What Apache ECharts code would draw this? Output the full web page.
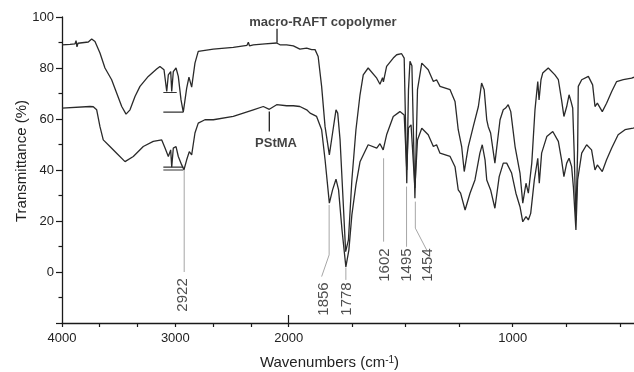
<!DOCTYPE html>
<html>
<head>
<meta charset="utf-8">
<script src="https://cdn.jsdelivr.net/npm/echarts@6/dist/echarts.min.js"></script>
<style>
  html, body { margin: 0; padding: 0; background: #fff; }
  #chart { width: 634px; height: 372px; }
</style>
</head>
<body>
<div id="chart"></div>
<script>
// wavenumbers (cm-1) and transmittance (%)
const topWn = [4000,3929,3885,3876,3868,3859,3768,3738,3709,3665,
  3621,3562,3518,3473,3435,3400,3356,3312,3239,3165,
  3136,3100,3076,3062,3041,3032,3018,2994,2974,2950,
  2930,2900,2880,2856,2827,2798,2783,2665,2489,2368,
  2356,2346,2312,2209,2106,2077,2018,1985,1964,1942,
  1926,1915,1905,1891,1875,1855,1840,1824,1816,1805,
  1791,1779,1766,1750,1731,1712,1697,1674,1634,1619,
  1607,1603,1588,1557,1541,1518,1506,1494,1486,1479,
  1470,1456,1444,1424,1394,1370,1355,1339,1292,1269,
  1254,1238,1226,1207,1184,1160,1145,1133,1121,1114,
  1103,1083,1059,1044,1033,1021,1009,989,966,953,
  938,927,911,896,883,877,868,860,834,803,
  787,772,761,748,737,728,720,713,705,697,
  694,678,647,627,616,605,582,562,538,515,
  484,445,434]
const topT = [89.1,89.3,89.5,90.7,88.3,89.7,90.2,91.4,90.4,85.9,
  80.0,75.4,70.2,64.9,61.9,63.6,68.8,72.8,76.7,79.6,
  80.6,79.3,70.8,77.3,78.6,70.8,78.6,80.0,76.7,67.5,
  62.7,72.1,76.4,72.5,81.9,86.5,87.2,87.4,88.1,88.9,
  90.1,88.7,89.1,89.5,89.8,89.1,89.1,88.7,87.4,87.8,
  87.2,87.2,84.5,72.8,57.0,45.9,54.5,63.6,62.3,51.8,
  28.3,8.0,12.6,36.1,55.8,69.5,77.3,80.0,76.0,73.6,
  76.2,74.6,80.6,83.9,85.2,85.6,83.9,34.8,71.5,82.6,
  80.9,28.9,71.5,81.9,79.3,74.7,75.4,72.8,71.5,66.9,
  55.8,49.2,39.4,49.2,57.0,64.9,74.1,71.5,59.7,57.0,
  54.5,42.7,59.7,63.6,64.3,65.6,62.9,49.2,38.8,27.0,
  34.8,30.9,42.7,63.6,74.7,67.5,75.4,78.0,80.0,77.3,
  75.4,67.5,61.0,64.9,69.5,66.9,64.3,46.6,20.4,47.9,
  72.8,75.4,76.7,73.4,64.9,66.2,62.9,66.2,70.8,74.7,
  75.4,76.0,76.4]

const lowWn = [4000,3753,3724,3694,3665,3636,3577,3518,3444,3371,
  3283,3195,3120,3091,3062,3041,3032,3018,2994,2974,
  2944,2924,2900,2877,2856,2827,2798,2739,2665,2489,
  2312,2224,2171,2106,2018,1985,1964,1942,1931,1910,
  1891,1875,1855,1840,1824,1812,1796,1778,1764,1750,
  1731,1712,1674,1634,1619,1604,1588,1557,1526,1506,
  1494,1486,1474,1456,1444,1424,1394,1370,1355,1339,
  1292,1269,1254,1243,1222,1199,1176,1153,1142,1129,
  1121,1114,1103,1083,1063,1044,1028,1021,1005,985,
  966,953,938,927,916,899,883,876,865,841,
  813,787,772,761,748,737,725,717,705,697,
  678,655,632,616,605,582,562,538,508,476,
  438,434]
const lowT = [64.3,64.9,64.8,63.6,57.0,51.8,49.2,46.6,43.3,45.3,
  49.2,51.2,51.8,48.6,45.3,47.9,41.1,48.6,49.2,45.3,
  42.0,40.1,44.0,47.2,45.9,54.5,58.4,59.7,59.7,61.0,
  63.6,64.9,63.8,65.6,65.2,65.2,64.9,63.6,62.3,61.0,
  55.8,44.0,27.0,32.2,36.4,32.2,16.5,2.0,8.6,22.4,
  34.2,43.2,49.9,48.6,50.3,47.9,53.8,61.0,62.9,61.6,
  40.0,56.5,57.7,33.0,51.8,56.4,53.8,49.2,49.9,46.6,
  45.3,41.3,32.2,30.9,24.3,30.9,36.1,46.6,49.9,44.0,
  36.1,36.8,32.2,25.0,37.4,42.7,42.7,43.2,38.8,30.9,
  25.6,19.7,21.7,20.4,23.0,36.1,44.6,34.8,46.6,53.1,
  55.1,51.2,44.0,37.4,42.7,44.6,41.3,33.5,16.5,36.1,
  46.6,49.9,47.9,40.0,42.0,39.4,44.0,48.6,53.8,55.8,
  56.4,56.5]

const xTickWn = [4000, 3667, 3333, 3000, 2667, 2333, 2000, 1750, 1500, 1250, 1000, 750, 500]
const xLabelWn = [4000, 3000, 2000, 1000]
const peakNames = ['2922', '1856', '1778', '1602', '1495', '1454']
const curveNames = ['macro-RAFT copolymer', 'PStMA']

// axis scale changes (above 2000 the axis is compressed) : [wavenumber, px from left]
const xBreaks = [[4000, 0], [2000, 226.7], [1900, 257.7], [1000, 450.7], [434, 572]]

function toU(w) {
  for (let i = 0; i < xBreaks.length - 1; i++) {
    const [w0, u0] = xBreaks[i], [w1, u1] = xBreaks[i + 1]
    if (w >= w1 || i === xBreaks.length - 2) return u0 + (w - w0) * (u1 - u0) / (w1 - w0)
  }
}
function fromU(u) {
  for (let i = 0; i < xBreaks.length - 1; i++) {
    const [w0, u0] = xBreaks[i], [w1, u1] = xBreaks[i + 1]
    if (u <= u1 || i === xBreaks.length - 2) return w0 + (u - u0) * (w1 - w0) / (u1 - u0)
  }
}
const pt = (p) => [toU(p[0]), p[1]]

// annotation layout
const peakLeaders = [
  [[2922, 40], [2922, 0]],
  [[1856, 26.3], [1856, 6.7], [1891, -1.8]],
  [[1778, 1.8], [1778, -3.1]],
  [[1602, 44.6], [1602, 11.9]],
  [[1495, 33.5], [1495, 9.9]],
  [[1454, 27.6], [1454, 17.2], [1401, 8.6]]
]
const peakLabelAt = [[2930, -9.0], [1880, -10.6], [1774, -10.6], [1596, 2.7], [1492, 2.7], [1394, 2.7]]
const brackets = [
  [[3106, 70.4], [2988, 70.4]],
  [[3106, 62.7], [2930, 62.7]],
  [[3106, 41.1], [2930, 41.1]],
  [[3106, 40.0], [2930, 40.0]]
]
const noteTicks = [[[2103, 95.4], [2103, 89.9]], [[2171, 62.9], [2171, 55.1]]]
const noteAt = [[1885, 98.0], [2112, 50.6]]

const font = 'Liberation Sans, Arial, sans-serif'
const ink = '#1a1a1a'

const chart = echarts.init(document.getElementById('chart'))

const segSeries = (lines, color, width) => lines.map(l => ({
  type: 'line',
  data: l.map(pt),
  showSymbol: false,
  silent: true,
  lineStyle: { color: color, width: width },
  z: 2
}))

chart.setOption({
  animation: false,
  textStyle: { fontFamily: font },
  grid: { left: 62, top: 17, right: 0, bottom: 49, containLabel: false, outerBoundsMode: 'none' },
  xAxis: [{
    type: 'value',
    min: 0,
    max: toU(434),
    axisLine: { show: true, onZero: false, lineStyle: { color: ink, width: 1.3 } },
    axisTick: { show: true, length: 4, customValues: xTickWn.map(toU), lineStyle: { color: ink, width: 1.2 } },
    axisLabel: {
      customValues: xLabelWn.map(toU),
      formatter: v => String(Math.round(fromU(v))),
      fontSize: 13, color: '#222', margin: 9
    },
    splitLine: { show: false },
    name: '{a|Wavenumbers (cm}{s|-1}{a|)}',
    nameLocation: 'middle',
    nameGap: 32,
    nameMoveOverlap: false,
    nameTextStyle: {
      padding: [0, 37, 0, 0],
      rich: {
        a: { fontSize: 15, color: '#222', fontFamily: font },
        s: { fontSize: 10, color: '#222', verticalAlign: 'top', fontFamily: font }
      }
    }
  }, {
    type: 'value',
    min: 0,
    max: toU(434),
    position: 'bottom',
    axisLine: { show: false, onZero: false },
    axisTick: { show: true, inside: true, length: 8, customValues: [toU(2000)], lineStyle: { color: ink, width: 1.2 } },
    axisLabel: { show: false },
    splitLine: { show: false }
  }],
  yAxis: {
    type: 'value',
    min: -20,
    max: 100,
    interval: 20,
    axisLine: { show: true, lineStyle: { color: ink, width: 1.3 } },
    axisTick: { show: true, length: 6, lineStyle: { color: ink, width: 1.2 } },
    minorTick: { show: true, splitNumber: 2, length: 3.5, lineStyle: { color: ink, width: 1.2 } },
    splitLine: { show: false },
    minorSplitLine: { show: false },
    axisLabel: { formatter: v => (v < 0 ? '' : String(v)), fontSize: 13, color: '#222', margin: 8 },
    name: 'Transmittance (%)',
    nameLocation: 'middle',
    nameGap: 33,
    nameMoveOverlap: false,
    nameTextStyle: { fontSize: 15, color: '#222', padding: [0, 0, 0, 18] }
  },
  series: [
    {
      name: curveNames[0],
      type: 'line',
      data: topWn.map((w, i) => [toU(w), topT[i]]),
      showSymbol: false,
      lineStyle: { color: '#2a2a2a', width: 1.3 },
      z: 3
    },
    {
      name: curveNames[1],
      type: 'line',
      data: lowWn.map((w, i) => [toU(w), lowT[i]]),
      showSymbol: false,
      lineStyle: { color: '#2a2a2a', width: 1.3 },
      z: 3
    },
    ...segSeries(peakLeaders, '#a6a6a6', 1),
    ...segSeries(brackets, '#333', 1.2),
    ...segSeries(noteTicks, '#222', 1.3),
    {
      type: 'scatter',
      silent: true,
      symbolSize: 1,
      itemStyle: { color: 'transparent' },
      data: peakNames.map((n, i) => ({ name: n, value: pt(peakLabelAt[i]) })),
      label: { show: true, position: 'inside', rotate: 90, formatter: '{b}', fontSize: 15, color: '#222' },
      z: 4
    },
    {
      type: 'scatter',
      silent: true,
      symbolSize: 1,
      itemStyle: { color: 'transparent' },
      data: curveNames.map((n, i) => ({ name: n, value: pt(noteAt[i]) })),
      label: { show: true, position: 'inside', formatter: '{b}', fontSize: 13, fontWeight: 'bold', color: '#111' },
      z: 4
    }
  ]
})
</script>
</body>
</html>
